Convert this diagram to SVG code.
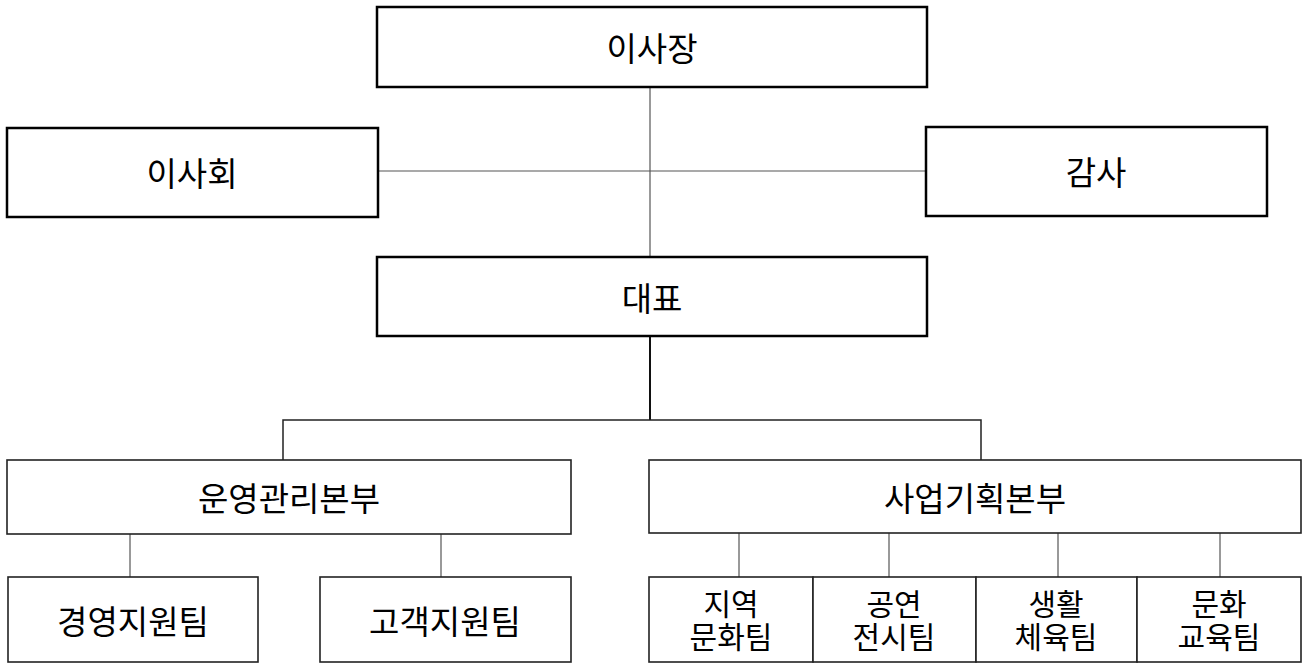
<svg xmlns="http://www.w3.org/2000/svg" width="1305" height="664" viewBox="0 0 1305 664">
<style>
  .bg{fill:#fff}
  .box1{fill:#fff;stroke:#000;stroke-width:2.5}
  .box2{fill:#fff;stroke:#222;stroke-width:1.6}
  .t{font-family:"Noto Sans CJK KR","Liberation Sans",sans-serif;font-size:33px;fill:#000;text-anchor:middle;dominant-baseline:central}
  .ts{font-size:30px}
  .c{fill:none;stroke:#555;stroke-width:1.2}
  .c2{fill:none;stroke:#111;stroke-width:2}
  .c3{fill:none;stroke:#222;stroke-width:1.5}
</style>
<rect class="bg" x="0" y="0" width="1305" height="664"/>
<g id="connectors">
  <line class="c" x1="650" y1="87" x2="650" y2="257"/>
  <line class="c" x1="378" y1="171" x2="926" y2="171"/>
  <line class="c2" x1="650" y1="336" x2="650" y2="420"/>
  <polyline class="c3" points="283,460 283,420 981,420 981,460"/>
  <line class="c" x1="130" y1="534" x2="130" y2="577"/>
  <line class="c" x1="441" y1="534" x2="441" y2="577"/>
  <line class="c" x1="739" y1="533" x2="739" y2="577"/>
  <line class="c" x1="889" y1="533" x2="889" y2="577"/>
  <line class="c" x1="1058" y1="533" x2="1058" y2="577"/>
  <line class="c" x1="1220" y1="533" x2="1220" y2="577"/>
</g>
<g id="chairman">
  <rect class="box1" x="377" y="7" width="550" height="80"/>
  <text class="t" x="652" y="47">이사장</text>
</g>
<g id="board">
  <rect class="box1" x="7" y="128" width="371" height="89"/>
  <text class="t" x="192" y="172">이사회</text>
</g>
<g id="audit">
  <rect class="box1" x="926" y="127" width="341" height="89"/>
  <text class="t" x="1096" y="171">감사</text>
</g>
<g id="ceo">
  <rect class="box1" x="377" y="257" width="550" height="79"/>
  <text class="t" x="652" y="297">대표</text>
</g>
<g id="ops">
  <rect class="box2" x="7" y="460" width="564" height="74"/>
  <text class="t" x="289" y="497">운영관리본부</text>
</g>
<g id="plan">
  <rect class="box2" x="649" y="460" width="652" height="73"/>
  <text class="t" x="975" y="497">사업기획본부</text>
</g>
<g id="mgmt">
  <rect class="box2" x="8" y="577" width="250" height="85"/>
  <text class="t" x="133" y="620">경영지원팀</text>
</g>
<g id="customer">
  <rect class="box2" x="320" y="577" width="251" height="85"/>
  <text class="t" x="445" y="620">고객지원팀</text>
</g>
<g id="regional">
  <rect class="box2" x="649" y="577" width="164" height="85"/>
  <text class="t ts" x="731" y="602">지역</text>
  <text class="t ts" x="731" y="635">문화팀</text>
</g>
<g id="performance">
  <rect class="box2" x="813" y="577" width="163" height="85"/>
  <text class="t ts" x="894" y="602">공연</text>
  <text class="t ts" x="894" y="635">전시팀</text>
</g>
<g id="sports">
  <rect class="box2" x="976" y="577" width="161" height="85"/>
  <text class="t ts" x="1056" y="602">생활</text>
  <text class="t ts" x="1056" y="635">체육팀</text>
</g>
<g id="education">
  <rect class="box2" x="1137" y="577" width="164" height="85"/>
  <text class="t ts" x="1219" y="602">문화</text>
  <text class="t ts" x="1219" y="635">교육팀</text>
</g>
</svg>
